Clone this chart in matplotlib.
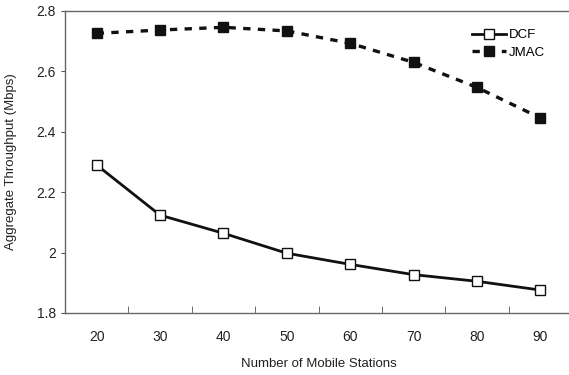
import matplotlib
matplotlib.use('Agg')
import matplotlib.pyplot as plt
import numpy as np

plt.rcParams['font.family'] = ['Liberation Sans', 'DejaVu Sans']

stations = [20, 30, 40, 50, 60, 70, 80, 90]
dcf = [2.29, 2.124, 2.064, 1.998, 1.961, 1.927, 1.905, 1.876]
jmac = [2.726, 2.737, 2.746, 2.734, 2.693, 2.630, 2.547, 2.446]
yticks = [1.8, 2.0, 2.2, 2.4, 2.6, 2.8]
ylabels = ['1.8', '2', '2.2', '2.4', '2.6', '2.8']

fig = plt.figure(figsize=(5.69, 3.75), dpi=100)
ax = fig.add_axes([65/569, 62/375, 507/569, 302/375])

ax.plot(stations, dcf, '-', color='#111111', lw=2, marker='s', ms=7,
        mfc='white', mec='#111111', mew=1, label='DCF')
ax.plot(stations, jmac, color='#111111', lw=2.4, ls=(0, (2.2, 2.2)), marker='s', ms=7,
        mfc='#111111', mec='#111111', label='JMAC')

ax.set_xlim(15, 95)
ax.set_ylim(1.8, 2.8)
ax.set_xticks(stations)
ax.set_xticklabels([str(s) for s in stations])
ax.set_xticks(np.array(stations[:-1]) + 5, minor=True)
ax.tick_params(axis='x', which='major', length=0, pad=12, labelsize=10, colors='#222222')
ax.tick_params(axis='x', which='minor', direction='in', length=5, color='#555555')
ax.set_yticks(yticks)
ax.set_yticklabels(ylabels)
ax.tick_params(axis='y', direction='out', length=3, labelsize=10, colors='#222222', color='#555555')

for side in ['top', 'left', 'bottom', 'right']:
    ax.spines[side].set_color('#666666')
    ax.spines[side].set_linewidth(1)

ax.set_xlabel('Number of Mobile Stations', fontsize=9.5, color='#222222', labelpad=10)
ax.set_ylabel('Aggregate Throughput (Mbps)', fontsize=9.5, color='#222222', labelpad=14)

ax.legend(loc='upper right', bbox_to_anchor=(0.97, 0.98), frameon=False, fontsize=9.5,
          handlelength=2.6, handletextpad=0.2, labelspacing=0.4)

fig.savefig('out.png', dpi=100)
